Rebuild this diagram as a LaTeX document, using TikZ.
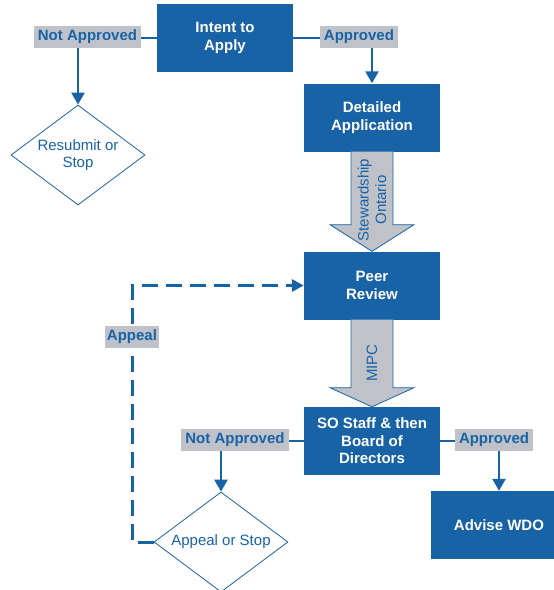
\documentclass[tikz,border=0pt]{standalone}
\usepackage{fontspec}
\setmainfont{Liberation Sans}
\usetikzlibrary{shapes.geometric,arrows.meta,calc}
\definecolor{sblue}{RGB}{24,98,166}
\definecolor{sgrey}{RGB}{191,195,201}
\begin{document}
\begin{tikzpicture}[x=1pt,y=-1pt,font=\fontsize{15}{17.5}\selectfont,
  box/.style={fill=sblue,text=white,font=\fontsize{15}{17.5}\selectfont\bfseries,
    minimum width=136,minimum height=68,align=center,inner sep=0},
  lbl/.style={fill=sgrey,text=sblue,font=\fontsize{15}{17.5}\selectfont\bfseries,
    minimum height=22,inner xsep=4,inner ysep=0},
  dia/.style={diamond,draw=sblue,line width=0.8,text=sblue,minimum width=134,
    minimum height=100,aspect=1.34,inner sep=0,align=center},
  conn/.style={draw=sblue,line width=2.5},
  arr/.style={conn,-{Triangle[width=13pt,length=12pt]}},
  dashline/.style={draw=sblue,line width=3,dash pattern=on 16pt off 8pt,
    -{Triangle[width=12pt,length=12pt]}},
  bigarrow/.style={fill=sgrey,draw=sblue,line width=0.8},
  arrtext/.style={text=sblue,rotate=90,align=center}]
\clip (0,0) rectangle (554,590);
% boxes
\node[box] (intent) at (225,38) {Intent to\\Apply};
\node[box] (da) at (372,117.5) {Detailed\\Application};
\node[box] (pr) at (372,285.5) {Peer\\Review};
\node[box] (so) at (372,441) {SO Staff \& then\\Board of\\Directors};
\node[box] (wdo) at (499,525) {Advise WDO};
% diamonds
\node[dia] (rs) at (78,155) {Resubmit or\\Stop};
\node[dia] (aos) at (221,542) {Appeal or Stop};
% labels
\node[lbl] (na1) at (87.5,37) {Not Approved};
\node[lbl] (ap1) at (359,37) {Approved};
\node[lbl] (na2) at (235,440) {Not Approved};
\node[lbl] (ap2) at (494,440) {Approved};
% big arrows
\draw[bigarrow] ($(da.south)+(-21,0)$) -- ($(da.south)+(-21,73)$) -- ($(da.south)+(-42,73)$)
  -- (pr.north) -- ($(da.south)+(42,73)$) -- ($(da.south)+(21,73)$) -- ($(da.south)+(21,0)$);
\node[arrtext] (sot) at (372,200) {Stewardship\\Ontario};
\draw[bigarrow] ($(pr.south)+(-21,0)$) -- ($(pr.south)+(-21,68)$) -- ($(pr.south)+(-42,68)$)
  -- (so.north) -- ($(pr.south)+(42,68)$) -- ($(pr.south)+(21,68)$) -- ($(pr.south)+(21,0)$);
\node[arrtext] (mipc) at (372,363) {MIPC};
% connectors
\draw[conn] (intent.west) -- (intent.west -| na1.east);
\draw[arr] (na1.south -| rs.north) -- (rs.north);
\draw[conn] (intent.east) -- (intent.east -| ap1.west);
\draw[arr] (ap1.south -| da.north) -- (da.north);
\draw[conn] (so.west) -- (so.west -| na2.east);
\draw[arr] (na2.south -| aos.north) -- (aos.north);
\draw[conn] (so.east) -- (so.east -| ap2.west);
\draw[arr] (ap2.south -| wdo.north) -- (wdo.north);
\coordinate (corner) at (132,542);
\draw[dashline] (aos.west) -- (aos.west -| corner) |- (pr.west);
\node[lbl,inner xsep=2] (apl) at (132,337) {Appeal};
\end{tikzpicture}
\end{document}
